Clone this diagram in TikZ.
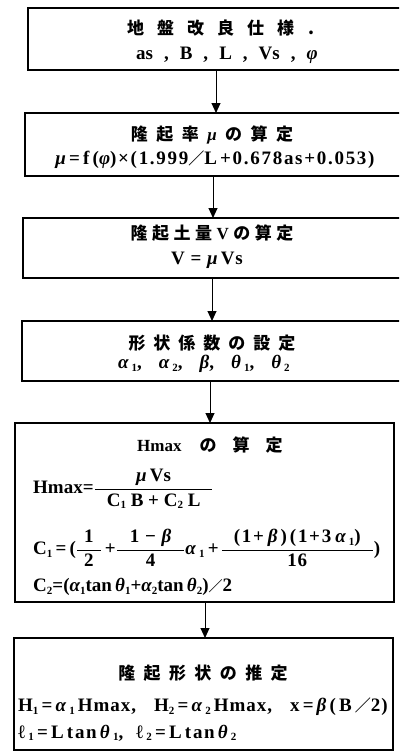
\documentclass[tikz,border=0pt]{standalone}
\usepackage{amsmath}
\usepackage{fontspec}
\setmainfont{Liberation Serif}
\newfontfamily\eqa{Liberation Serif}
\newfontfamily\eqb{Liberation Serif}[LetterSpace=5]
\newfontfamily\eqc{Liberation Serif}[LetterSpace=9]
\newfontfamily\jp{Noto Sans CJK JP}
\usetikzlibrary{arrows.meta}
\newcommand\lo[1]{\raisebox{-0.3ex}{\fontsize{11}{11}\selectfont #1}}
\newcommand\gk[1]{{\itshape #1}}
\newcommand\fr[2]{\ensuremath{\genfrac{}{}{1.1pt}{0}{\text{#1}}{\text{#2}}}}
\newcommand\slsh{{\jp\fontsize{16}{16}\selectfont ／}}
\begin{document}
\begin{tikzpicture}[x=1pt,y=-1pt,
  box/.style={draw, line width=1.3pt, inner sep=0pt, outer sep=0pt},
  ttl/.style={inner sep=0pt, font=\jp\bfseries\fontsize{17}{17}\selectfont},
  eq/.style={inner sep=0pt, font=\eqa\bfseries\fontsize{19}{19}\selectfont},
  eqs/.style={inner sep=0pt, font=\eqb\bfseries\fontsize{19}{19}\selectfont},
  eqw/.style={inner sep=0pt, font=\eqc\bfseries\fontsize{19}{19}\selectfont},
  arr/.style={line width=1pt, -{Triangle[length=10pt,width=9pt]}}]
\useasboundingbox (0,0) rectangle (399,752);
\clip (0,0) rectangle (399,752);
% boxes
\node[box, minimum width=392pt, minimum height=62pt] (b1) at (224,39) {};
\node[box, minimum width=395pt, minimum height=63pt] (b2) at (222.5,144.5) {};
\node[box, minimum width=397pt, minimum height=60pt] (b3) at (221.5,248) {};
\node[box, minimum width=398pt, minimum height=60pt] (b4) at (221,351) {};
\node[box, minimum width=379pt, minimum height=179pt] (b5) at (204.5,512.5) {};
\node[box, minimum width=379pt, minimum height=112pt] (b6) at (203.5,694) {};
% texts
\node[ttl, anchor=west] (t1) at (127,28) {地\hspace{13pt}盤\hspace{13pt}改\hspace{13pt}良\hspace{13pt}仕\hspace{13pt}様\hspace{14pt}.};
\node[eq, anchor=west] (e1) at (136,55) {as\hspace{11pt},\hspace{11pt}B\hspace{11pt},\hspace{11pt}L\hspace{11pt},\hspace{11pt}Vs\hspace{11pt},\hspace{11pt}\gk{φ}};
\node[ttl] (t2) at (212,135) {隆\hspace{8.5pt}起\hspace{8.5pt}率\hspace{8.5pt}{\rmfamily\gk{μ}}\hspace{8.5pt}の\hspace{8.5pt}算\hspace{8.5pt}定};
\node[eqw] (e2) at (215,160) {\gk{μ}\,=\,f\,(\gk{φ})×(1.999\slsh L\,+0.678as+0.053)};
\node[ttl] (t3) at (212,233) {隆\hspace{4.5pt}起\hspace{4.5pt}土\hspace{4.5pt}量\hspace{4.5pt}{\rmfamily V}\hspace{4.5pt}の\hspace{4.5pt}算\hspace{4.5pt}定};
\node[eqs] (e3) at (207,260) {V\ =\ \gk{μ}\,Vs};
\node[ttl] (t4) at (212,343) {形\hspace{8pt}状\hspace{8pt}係\hspace{8pt}数\hspace{8pt}の\hspace{8pt}設\hspace{8pt}定};
\node[eq, anchor=west] (e4) at (118,364) {\gk{α}\hspace{3pt}\lo{1},\hspace{17pt}\gk{α}\hspace{3pt}\lo{2},\hspace{17pt}\gk{β},\hspace{17pt}\gk{θ}\hspace{3pt}\lo{1},\hspace{17pt}\gk{θ}\hspace{3pt}\lo{2}};
\node[ttl, anchor=west] (t5) at (137,445) {{\rmfamily Hmax}\hspace{18pt}の\hspace{16pt}算\hspace{16pt}定};
\node[eq, anchor=west] (e5a) at (33,489) {Hmax=\fr{\gk{μ}\,Vs}{\hspace{12pt}C\lo{1}\ B\ +\ C\lo{2}\ L\hspace{12pt}}};
\node[eqs, anchor=west] (e5b) at (33,548) {C\lo{1}\,=\,(\fr{\hspace{7pt}1\hspace{7pt}}{2}\hspace{3pt}+\fr{\hspace{13pt}1\ −\ \gk{β}\hspace{13pt}}{4}\gk{α}\,\lo{1}\,+\hspace{2pt}\fr{\hspace{12pt}{\eqc(1+\hspace{4pt}\gk{β}\hspace{3pt})\hspace{3pt}(1+3\hspace{4pt}\gk{α}\hspace{3pt}\lo{1})}\hspace{12pt}}{16})};
\node[eq, anchor=west] (e5c) at (33,587) {C\lo{2}=(\gk{α}\lo{1}tan\,\gk{θ}\lo{1}+\gk{α}\lo{2}tan\,\gk{θ}\lo{2}){\jp\fontsize{14}{14}\selectfont ／}2};
\node[ttl] (t6) at (203,673) {隆\hspace{8.4pt}起\hspace{8.4pt}形\hspace{8.4pt}状\hspace{8.4pt}の\hspace{8.4pt}推\hspace{8.4pt}定};
\node[eqs, anchor=west] (e6a) at (18,707) {H\lo{1}\,=\,\gk{α}\,\lo{1}\,Hmax,\hspace{18pt}H\lo{2}\,=\,\gk{α}\,\lo{2}\,Hmax,\hspace{18pt}x\,=\,\gk{β}\,(\,B\,\slsh 2)};
\node[eqw, anchor=west] (e6b) at (18,733) {ℓ\,\lo{1}\,=\,L\,tan\,\gk{θ}\,\lo{1},\ \ ℓ\,\lo{2}\,=\,L\,tan\,\gk{θ}\,\lo{2}};
% arrows
\coordinate (x1) at (216,0);
\coordinate (x2) at (213,0);
\coordinate (x3) at (212,0);
\coordinate (x4) at (210,0);
\coordinate (x5) at (205,0);
\draw[arr] (b1.south -| x1) -- (b2.north -| x1);
\draw[arr] (b2.south -| x2) -- (b3.north -| x2);
\draw[arr] (b3.south -| x3) -- (b4.north -| x3);
\draw[arr] (b4.south -| x4) -- (b5.north -| x4);
\draw[arr] (b5.south -| x5) -- (b6.north -| x5);
\end{tikzpicture}
\end{document}
